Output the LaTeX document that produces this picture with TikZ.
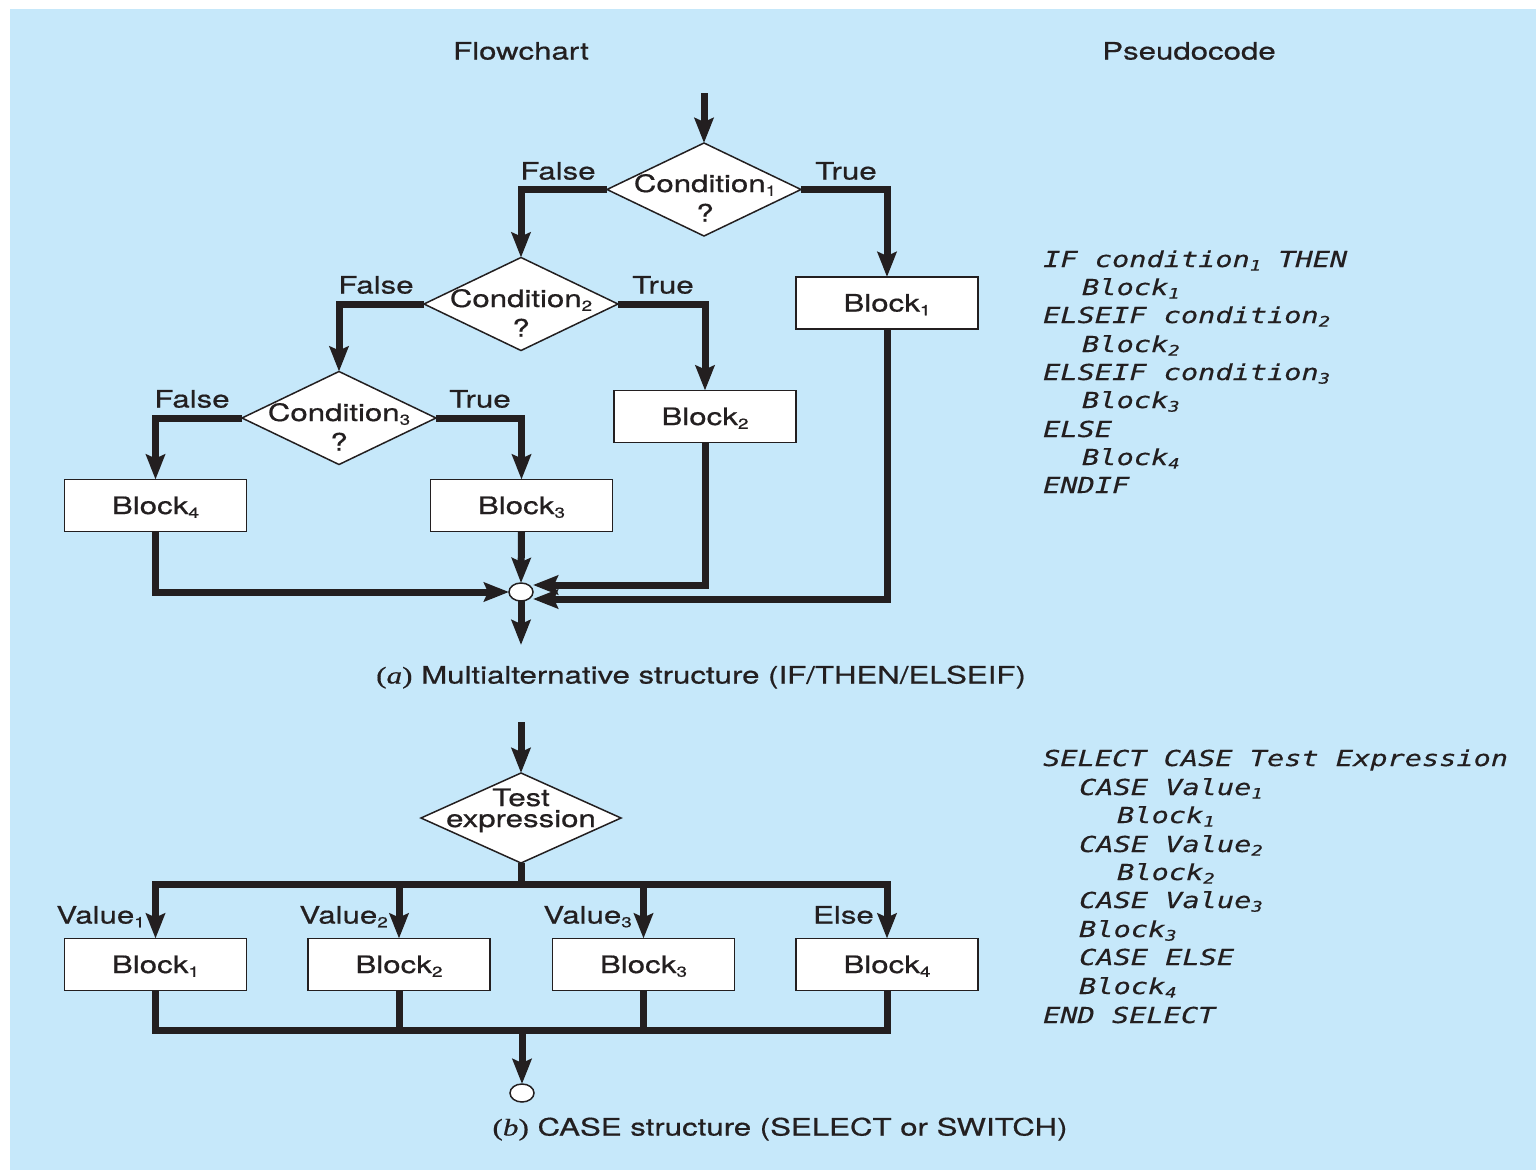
\documentclass[tikz,border=0pt]{standalone}
\usepackage{fontspec}
\usetikzlibrary{shapes.geometric,arrows.meta}
\newfontfamily\hv{TeX Gyre Heros}[FakeStretch=1.3, FakeBold=0.6]
\newfontfamily\pcfont{DejaVu Sans Mono Oblique}[FakeStretch=1.3, FakeBold=0.3]
\newfontfamily\capserif{Liberation Serif}[FakeStretch=1.3, FakeBold=0.6]
\definecolor{ink}{RGB}{35,31,32}
\definecolor{sky}{RGB}{198,232,250}
\newcommand{\lowix}[1]{\raisebox{-0.3ex}{\fontsize{14.5}{14.5}\selectfont #1}}
\begin{document}
\begin{tikzpicture}[x=1pt,y=-1pt,
  wire/.style={line width=7pt, draw=ink},
  flow/.style={wire, -{Stealth[length=25pt,width=19pt,inset=4pt]}},
  box/.style={draw=ink, line width=1.5pt, fill=white, minimum width=182pt,
    minimum height=52pt, inner sep=0pt, outer sep=0pt,
    font=\hv\fontsize{24}{28}\selectfont, text=ink, text height=17pt, text depth=0pt},
  dia/.style={diamond, draw=ink, line width=1.5pt, fill=white,
    minimum width=194pt, minimum height=93pt, inner sep=0pt, outer sep=0pt},
  txt/.style={font=\hv\fontsize{24}{28}\selectfont, text=ink, inner sep=0pt,
    text height=17pt, text depth=0pt},
  code/.style={font=\pcfont\fontsize{22}{28}\selectfont, text=ink, inner sep=0pt,
    anchor=base west},
  junc/.style={ellipse, draw=ink, line width=1.5pt, fill=white, minimum width=24pt,
    minimum height=18pt, inner sep=0pt, outer sep=0pt}
]
% page and panel background
\fill[white] (0,0) rectangle (1536,1170);
\fill[sky] (10,9) rectangle (1536,1170);
\useasboundingbox (0,0) rectangle (1536,1170);

% headings
\node[txt] (hflow) at (521,51) {Flowchart};
\node[txt] (hcode) at (1189,51) {Pseudocode};

% ---------- (a) IF/THEN/ELSEIF ----------
\coordinate (inA) at (704,93);
\node[dia] (d1) at (704,189.5) {};
\node[dia] (d2) at (521,304) {};
\node[dia] (d3) at (339,418) {};
\node[txt] (d1t) at (705,183.5) {Condition\lowix{1}};
\node[txt] (d1q) at (705,213) {?};
\node[txt] (d2t) at (521,298.5) {Condition\lowix{2}};
\node[txt] (d2q) at (521,328) {?};
\node[txt] (d3t) at (339,412.5) {Condition\lowix{3}};
\node[txt] (d3q) at (339,442) {?};

\node[box] (b1) at (887,303) {Block\lowix{1}};
\node[box] (b2) at (705,416.5) {Block\lowix{2}};
\node[box] (b3) at (521.5,505.5) {Block\lowix{3}};
\node[box] (b4) at (155.5,505.5) {Block\lowix{4}};

\node[txt] (f1) at (558,171) {False};
\node[txt] (t1) at (846,171) {True};
\node[txt] (f2) at (376,285) {False};
\node[txt] (t2) at (663,285) {True};
\node[txt] (f3) at (192,399) {False};
\node[txt] (t3) at (480,399) {True};

\node[junc] (c1) at (521,592) {};
\coordinate (outA) at (521,645);

\draw[flow] (inA) -- (d1.north);
\draw[flow] (d1.west) -| (d2.north);
\draw[flow] (d1.east) -| (b1.north);
\draw[flow] (d2.west) -| (d3.north);
\draw[flow] (d2.east) -| (b2.north);
\draw[flow] (d3.west) -| (b4.north);
\draw[flow] (d3.east) -| (b3.north);
\draw[flow] (b4.south) |- (c1.west);
\draw[flow] (b3.south) -- (c1.north);
\draw[flow] (b2.south) |- ([yshift=7pt]c1.east);
\draw[flow] (b1.south) |- ([yshift=-7pt]c1.east);
\draw[flow] (c1.south) -- (outA);

\node[txt] (capa) at (701,675) {{\capserif(\itshape a\/\upshape)} Multialternative structure (IF/THEN/ELSEIF)};

% ---------- (b) CASE ----------
\coordinate (inB) at (521,722);
\node[dia, minimum width=200pt, minimum height=90pt] (d4) at (521,818) {};
\node[txt] (d4a) at (521,797.5) {Test};
\node[txt] (d4b) at (521,818.5) {expression};
\coordinate (busT) at (521,884);
\coordinate (busB) at (522,1030);

\node[box] (v1) at (155.5,964.5) {Block\lowix{1}};
\node[box] (v2) at (399,964.5) {Block\lowix{2}};
\node[box] (v3) at (643.5,964.5) {Block\lowix{3}};
\node[box] (v4) at (887,964.5) {Block\lowix{4}};

\node[txt, anchor=east] (l1) at (145,915) {Value\lowix{1}};
\node[txt, anchor=east] (l2) at (388,915) {Value\lowix{2}};
\node[txt, anchor=east] (l3) at (632,915) {Value\lowix{3}};
\node[txt, anchor=east] (l4) at (874,915) {Else};

\node[junc] (c2) at (522,1093) {};

\draw[flow] (inB) -- (d4.north);
\draw[wire] (d4.south) -- (busT);
\foreach \v in {v1,v2,v3,v4}{
  \draw[flow] (busT) -| (\v.north);
  \draw[wire] (\v.south) |- (busB);
}
\draw[flow] (busB) -- (c2.north);

\node[txt] (capb) at (780,1127) {{\capserif(\itshape b\/\upshape)} CASE structure (SELECT or SWITCH)};

% ---------- pseudocode ----------
\foreach \xx/\yy/\qq [count=\k] in {
  1043/267/{IF condition\lowix{1} THEN},
  1082/295/{Block\lowix{1}},
  1043/323/{ELSEIF condition\lowix{2}},
  1082/352/{Block\lowix{2}},
  1043/380/{ELSEIF condition\lowix{3}},
  1082/408/{Block\lowix{3}},
  1043/437/{ELSE},
  1082/465/{Block\lowix{4}},
  1043/493/{ENDIF}}{
  \node[code] (pa\k) at (\xx,\yy) {\qq};
}
\foreach \xx/\yy/\qq [count=\k] in {
  1043/766/{SELECT CASE Test Expression},
  1079/795/{CASE Value\lowix{1}},
  1117/823/{Block\lowix{1}},
  1079/852/{CASE Value\lowix{2}},
  1117/880/{Block\lowix{2}},
  1079/908/{CASE Value\lowix{3}},
  1079/937/{Block\lowix{3}},
  1079/965/{CASE ELSE},
  1079/994/{Block\lowix{4}},
  1043/1023/{END SELECT}}{
  \node[code] (pb\k) at (\xx,\yy) {\qq};
}
\end{tikzpicture}
\end{document}
